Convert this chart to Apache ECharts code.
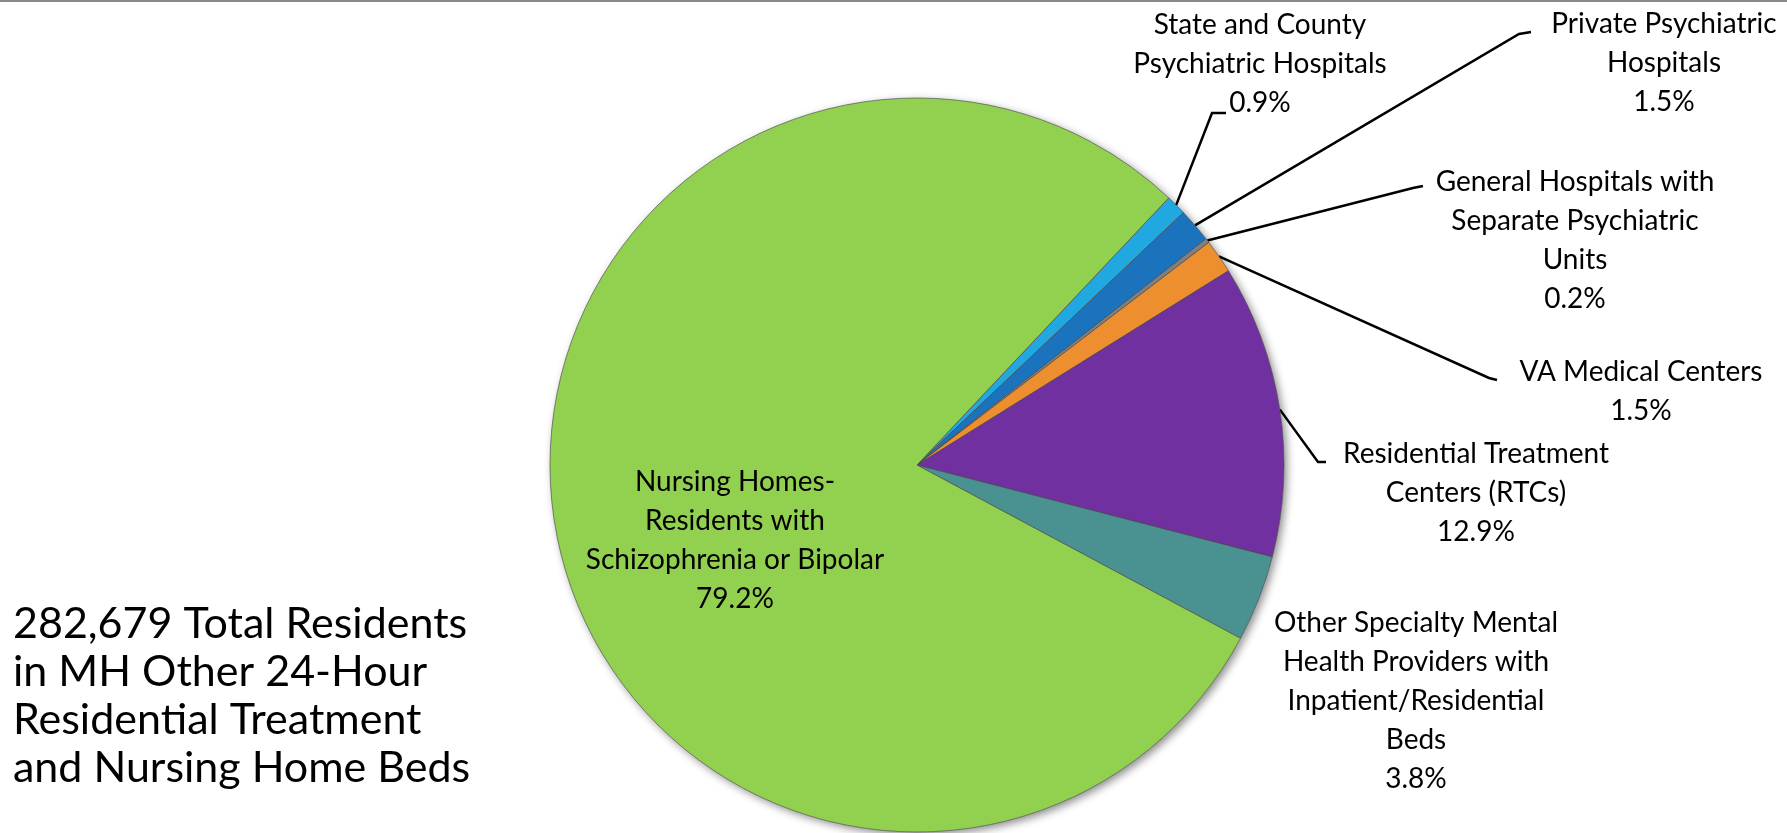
<!DOCTYPE html>
<html>
<head>
<meta charset="utf-8">
<script src="https://cdn.jsdelivr.net/npm/echarts@6/dist/echarts.min.js"></script>
<style>
  html, body { margin: 0; padding: 0; background: #ffffff; }
  #chart { width: 1787px; height: 833px; }
</style>
</head>
<body>
<div id="chart"></div>
<script>
// Share of residents by facility type (percent)
const categories = [
  'State and County\nPsychiatric Hospitals',
  'Private Psychiatric\nHospitals',
  'General Hospitals with\nSeparate Psychiatric\nUnits',
  'VA Medical Centers',
  'Residential Treatment\nCenters (RTCs)',
  'Other Specialty Mental\nHealth Providers with\nInpatient/Residential\nBeds',
  'Nursing Homes-\nResidents with\nSchizophrenia or Bipolar'
];
const shares = [0.9, 1.5, 0.2, 1.5, 12.9, 3.8, 79.2];
const sliceColors = ['#21A8E0', '#1B72BD', '#808080', '#EE8F2F', '#7030A0', '#4A9191', '#92D050'];
const totalNote = '282,679 Total Residents\nin MH Other 24-Hour\nResidential Treatment\nand Nursing Home Beds';

// Label placement: centre of each label block, and the bend/end of its leader line
const labelCentres = [[1260, 64], [1664, 63], [1575, 240], [1641, 391], [1476, 493], [1416, 701], [735, 540]];
const leaderEnds = [
  [[1212, 113], [1226, 113]],
  [[1519, 34], [1531, 32]],
  [[1413, 188], [1423, 186]],
  [[1489, 378], [1497, 380]],
  [[1318, 462], [1326, 462]],
  null,
  null
];

const FONT = 'Lato, "Open Sans", sans-serif';
const PIE_CENTER = [917, 465];
const PIE_RADIUS = 367;
const START_ANGLE = 46.7;

const sliceData = categories.map((name, i) => {
  const item = { name: name, value: shares[i], itemStyle: { color: sliceColors[i] } };
  if (i === categories.length - 1) {
    item.label = { position: 'inside' };
    item.labelLine = { show: false };
  } else if (!leaderEnds[i]) {
    item.labelLine = { show: false };
  }
  return item;
});

const chart = echarts.init(document.getElementById('chart'), null, { renderer: 'canvas' });

chart.setOption({
  backgroundColor: '#ffffff',
  animation: false,
  graphic: [
    {
      type: 'line',
      shape: { x1: 0, y1: 1, x2: 1787, y2: 1 },
      style: { stroke: '#8a8a8a', lineWidth: 2 }
    },
    {
      type: 'text',
      left: 13,
      top: 600,
      style: {
        text: totalNote,
        font: '43px ' + FONT,
        fill: '#000000',
        lineHeight: 48
      }
    }
  ],
  series: [
    {
      // soft drop shadow beneath the pie
      type: 'pie',
      silent: true,
      z: 1,
      center: PIE_CENTER,
      radius: PIE_RADIUS,
      startAngle: START_ANGLE,
      label: { show: false },
      labelLine: { show: false },
      itemStyle: {
        color: '#ffffff',
        shadowBlur: 8,
        shadowOffsetX: 3,
        shadowOffsetY: 3,
        shadowColor: 'rgba(0,0,0,0.45)'
      },
      data: shares.map((v, i) => ({ name: categories[i], value: v }))
    },
    {
      type: 'pie',
      z: 2,
      center: PIE_CENTER,
      radius: PIE_RADIUS,
      startAngle: START_ANGLE,
      avoidLabelOverlap: false,
      itemStyle: {
        borderColor: 'rgba(70,70,70,0.65)',
        borderWidth: 1
      },
      label: {
        show: true,
        position: 'outside',
        color: '#000000',
        fontFamily: FONT,
        fontSize: 28,
        lineHeight: 39,
        align: 'center',
        formatter: p => p.name + '\n' + p.value.toFixed(1) + '%'
      },
      labelLine: {
        show: true,
        length: 20,
        length2: 10,
        lineStyle: { color: '#000000', width: 2.5 }
      },
      labelLayout: function (p) {
        const i = p.dataIndex;
        const out = {
          x: labelCentres[i][0],
          y: labelCentres[i][1],
          align: 'center',
          verticalAlign: 'middle'
        };
        if (leaderEnds[i] && p.labelLinePoints) {
          out.labelLinePoints = [p.labelLinePoints[0]].concat(leaderEnds[i]);
        }
        return out;
      },
      emphasis: { disabled: true },
      data: sliceData
    }
  ]
});
</script>
</body>
</html>
